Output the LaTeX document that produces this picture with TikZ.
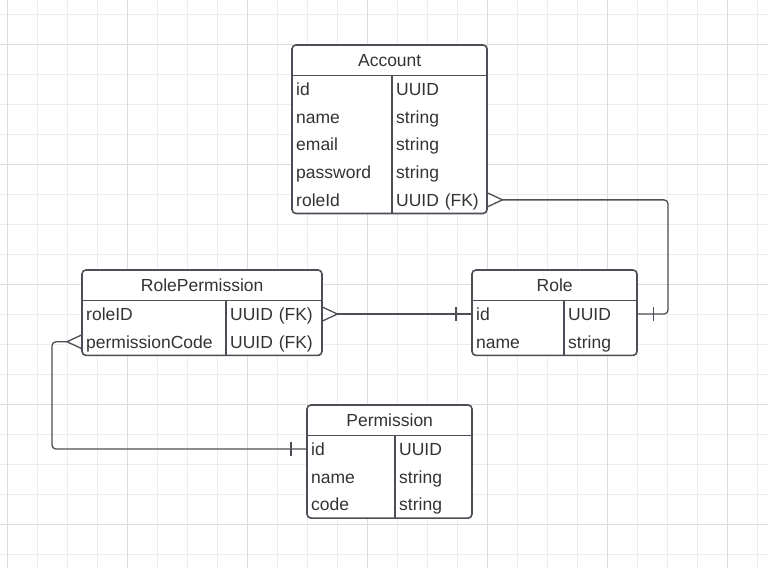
\documentclass[tikz,border=0pt]{standalone}
\usepackage{fontspec}
\setmainfont{Liberation Sans}
\definecolor{gridminor}{HTML}{EDEDED}
\definecolor{gridmajor}{HTML}{DDDDDD}
\definecolor{edge}{HTML}{4B4F55}
\definecolor{txt}{HTML}{333333}
\tikzset{
  minor/.style={draw=gridminor, line width=1pt},
  major/.style={draw=gridmajor, line width=1pt},
  tbl/.style={draw=edge, fill=white, line width=1.6pt, rounded corners=4pt},
  sep/.style={draw=edge, line width=1.6pt},
  link/.style={draw=edge, line width=1.3pt},
  cell/.style={anchor=north west, inner xsep=4pt, inner ysep=0pt, minimum height=27.7pt,
    text height=12.5pt, text depth=0pt, align=left, text=txt,
    font=\fontsize{17.5}{21}\selectfont},
  hdr/.style={cell, minimum height=30pt, align=center}
}
\begin{document}
\begin{tikzpicture}[x=1pt, y=-1pt]
    \useasboundingbox (0,0) rectangle (768,568);
    \fill[white] (0,0) rectangle (768,568);
    \foreach \x in {7,37,...,757} \draw[minor] (\x,0) -- (\x,568);
    \foreach \y in {14,44,...,554} \draw[minor] (0,\y) -- (768,\y);
    \foreach \x in {7,127,...,727} \draw[major] (\x,0) -- (\x,568);
    \foreach \y in {44,164,...,524} \draw[major] (0,\y) -- (768,\y);

    % Account
    \filldraw[tbl] (292,45) rectangle (487,213.5);
    \node[hdr, text width=187pt] (acc) at (292,45) {Account};
    \foreach \f/\t [count=\i from 0] in {id/UUID, name/string, email/string, password/string, roleId/UUID (FK)} {
        \node[cell, text width=92pt] (acc-\f) at (292,75+27.7*\i) {\f};
        \node[cell, text width=87pt] (acc-\f-t) at (392,75+27.7*\i) {\t};
    }
    \draw[sep] (acc.south west) -- (acc.south east);
    \draw[sep] (acc-id-t.north west) -- (acc-roleId-t.south west);

    % RolePermission
    \filldraw[tbl] (82,270) rectangle (322,355.4);
    \node[hdr, text width=232pt] (rp) at (82,270) {RolePermission};
    \foreach \f/\t [count=\i from 0] in {roleID/UUID (FK), permissionCode/UUID (FK)} {
        \node[cell, text width=136pt] (rp-\f) at (82,300+27.7*\i) {\f};
        \node[cell, text width=88pt] (rp-\f-t) at (226,300+27.7*\i) {\t};
    }
    \draw[sep] (rp.south west) -- (rp.south east);
    \draw[sep] (rp-roleID-t.north west) -- (rp-permissionCode-t.south west);

    % Role
    \filldraw[tbl] (472,270) rectangle (637,355.4);
    \node[hdr, text width=157pt] (role) at (472,270) {Role};
    \foreach \f/\t [count=\i from 0] in {id/UUID, name/string} {
        \node[cell, text width=84pt] (role-\f) at (472,300+27.7*\i) {\f};
        \node[cell, text width=65pt] (role-\f-t) at (564,300+27.7*\i) {\t};
    }
    \draw[sep] (role.south west) -- (role.south east);
    \draw[sep] (role-id-t.north west) -- (role-name-t.south west);

    % Permission
    \filldraw[tbl] (307,405) rectangle (472,518.1);
    \node[hdr, text width=157pt] (perm) at (307,405) {Permission};
    \foreach \f/\t [count=\i from 0] in {id/UUID, name/string, code/string} {
        \node[cell, text width=80pt] (perm-\f) at (307,435+27.7*\i) {\f};
        \node[cell, text width=69pt] (perm-\f-t) at (395,435+27.7*\i) {\t};
    }
    \draw[sep] (perm.south west) -- (perm.south east);
    \draw[sep] (perm-id-t.north west) -- (perm-code-t.south west);

    % relations
    \coordinate (bendR) at (668,0);
    \coordinate (bendL) at (52,0);

    \draw[link] ([yshift=7pt]acc-roleId-t.east) -- ([xshift=15pt]acc-roleId-t.east) -- ([yshift=-7pt]acc-roleId-t.east);
    \draw[link, rounded corners=4pt] ([xshift=15pt]acc-roleId-t.east) -| (bendR |- role-id-t.east) -- (role-id-t.east);
    \draw[link] ([xshift=16pt,yshift=7pt]role-id-t.east) -- ([xshift=16pt,yshift=-7pt]role-id-t.east);

    \draw[link] ([yshift=7pt]rp-roleID-t.east) -- ([xshift=15pt]rp-roleID-t.east) -- ([yshift=-7pt]rp-roleID-t.east);
    \draw[link] ([xshift=15pt]rp-roleID-t.east) -- (role-id.west);
    \draw[link] ([xshift=-16pt,yshift=7pt]role-id.west) -- ([xshift=-16pt,yshift=-7pt]role-id.west);

    \draw[link] ([yshift=7pt]rp-permissionCode.west) -- ([xshift=-15pt]rp-permissionCode.west) -- ([yshift=-7pt]rp-permissionCode.west);
    \draw[link, rounded corners=4pt] ([xshift=-15pt]rp-permissionCode.west) -| (bendL |- perm-id.west) -- (perm-id.west);
    \draw[link] ([xshift=-16pt,yshift=7pt]perm-id.west) -- ([xshift=-16pt,yshift=-7pt]perm-id.west);
\end{tikzpicture}
\end{document}
